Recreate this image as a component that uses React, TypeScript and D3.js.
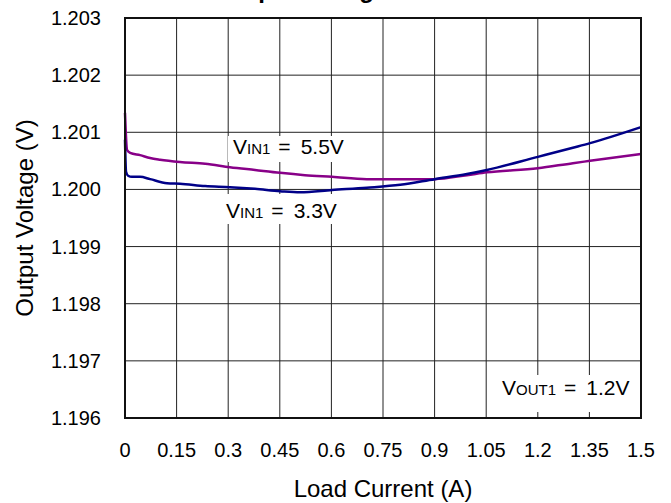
import React, { useEffect, useRef } from 'react'
import * as d3 from 'd3'

// load current (A) and output voltage (V)
const vin55Current = [0, 0.006, 0.015, 0.044, 0.073, 0.102, 0.16, 0.233, 0.305, 0.378, 0.451, 0.523, 0.602, 0.703, 0.8, 0.9, 0.994, 1.052, 1.2, 1.302, 1.352, 1.5]
const vin55Voltage = [1.20134, 1.20069, 1.20064, 1.2006, 1.20055, 1.20052, 1.20048, 1.20045, 1.20039, 1.20034, 1.20029, 1.20025, 1.20022, 1.20018, 1.20018, 1.20018, 1.20025, 1.2003, 1.20037, 1.20046, 1.2005, 1.20062]

const vin33Current = [0, 0.003, 0.009, 0.02, 0.044, 0.073, 0.122, 0.16, 0.233, 0.305, 0.378, 0.451, 0.509, 0.602, 0.703, 0.8, 0.9, 0.994, 1.052, 1.2, 1.302, 1.352, 1.5]
const vin33Voltage = [1.20087, 1.20031, 1.20024, 1.20022, 1.20022, 1.20018, 1.20011, 1.2001, 1.20006, 1.20004, 1.20001, 1.19997, 1.19995, 1.19999, 1.20003, 1.20008, 1.20018, 1.20027, 1.20034, 1.20057, 1.20073, 1.20081, 1.20109]

const xTicks = [0, 0.15, 0.3, 0.45, 0.6, 0.75, 0.9, 1.05, 1.2, 1.35, 1.5]
const yTicks = [1.196, 1.197, 1.198, 1.199, 1.2, 1.201, 1.202, 1.203]

const FONT = 'Liberation Sans, Arial, sans-serif'

function App() {
  const ref = useRef<SVGSVGElement>(null)

  useEffect(() => {
    drawChart(ref.current!, 671, 503)
  }, [])

  return (
    <svg ref={ref} width={671} height={503}
      style={{ position: 'absolute', left: 0, top: 0, background: '#fff' }} />
  )
}

function drawChart(el: SVGSVGElement, w: number, h: number) {
  const svg = d3.select(el)
  svg.selectAll('*').remove()
  svg.append('rect').attr('width', w).attr('height', h).attr('fill', '#fff')

  const marge = { top: 18, bottom: 85, left: 125, right: 30 }
  const x = d3.scaleLinear().domain([0, 1.5]).range([marge.left, w - marge.right])
  const y = d3.scaleLinear().domain([1.196, 1.203]).range([h - marge.bottom, marge.top])

  // title, mostly cut off by the top edge (as in the source image)
  svg.append('text')
    .attr('x', 217).attr('y', -2)
    .attr('font-family', FONT).attr('font-size', 24).attr('font-weight', 'bold')
    .text('Output Voltage vs Load Current')

  // grid
  const g = svg.append('g')
  g.selectAll('line.vx')
    .data(xTicks.slice(1, -1))
    .enter().append('line')
    .attr('x1', d => x(d)).attr('x2', d => x(d))
    .attr('y1', y(1.203)).attr('y2', y(1.196))
    .attr('stroke', '#222').attr('stroke-width', 1)
  g.selectAll('line.hy')
    .data(yTicks.slice(1, -1))
    .enter().append('line')
    .attr('y1', d => y(d)).attr('y2', d => y(d))
    .attr('x1', x(0)).attr('x2', x(1.5))
    .attr('stroke', '#222').attr('stroke-width', 1)

  // white boxes behind the notes
  const boxes = [
    { x0: 228, y0: 136, x1: 348, y1: 162 },
    { x0: 221, y0: 194, x1: 341, y1: 224 },
    { x0: 492, y0: 375, x1: 640, y1: 412 },
  ]
  svg.selectAll('rect.box').data(boxes).enter().append('rect')
    .attr('x', d => d.x0).attr('y', d => d.y0)
    .attr('width', d => d.x1 - d.x0).attr('height', d => d.y1 - d.y0)
    .attr('fill', '#fff')

  // curves
  const line = d3.line<[number, number]>().x(d => x(d[0])).y(d => y(d[1])).curve(d3.curveMonotoneX)
  const series = [
    { pts: d3.zip(vin55Current, vin55Voltage) as [number, number][], color: '#880088' },
    { pts: d3.zip(vin33Current, vin33Voltage) as [number, number][], color: '#000088' },
  ]
  series.forEach(s => {
    svg.append('path').attr('d', line(s.pts))
      .attr('fill', 'none').attr('stroke', s.color).attr('stroke-width', 2.5)
  })

  // frame
  svg.append('rect')
    .attr('x', x(0)).attr('y', y(1.203))
    .attr('width', x(1.5) - x(0)).attr('height', y(1.196) - y(1.203))
    .attr('fill', 'none').attr('stroke', '#111').attr('stroke-width', 2)

  // tick labels
  svg.selectAll('text.yt').data(yTicks).enter().append('text')
    .attr('x', 101).attr('y', d => y(d) + 7)
    .attr('text-anchor', 'end')
    .attr('font-family', FONT).attr('font-size', 20)
    .text(d => d3.format('.3f')(d))
  svg.selectAll('text.xt').data(xTicks).enter().append('text')
    .attr('x', d => x(d)).attr('y', 457)
    .attr('text-anchor', 'middle')
    .attr('font-family', FONT).attr('font-size', 20)
    .text(d => String(d))

  // axis titles
  svg.append('text')
    .attr('x', 383).attr('y', 497)
    .attr('text-anchor', 'middle')
    .attr('font-family', FONT).attr('font-size', 24)
    .text('Load Current (A)')
  svg.append('text')
    .attr('transform', 'translate(33, 218) rotate(-90)')
    .attr('text-anchor', 'middle')
    .attr('font-family', FONT).attr('font-size', 24)
    .text('Output Voltage (V)')

  // notes
  const notes = [
    { px: 233, py: 154, sub: 'IN1', rest: '5.5V' },
    { px: 226, py: 218, sub: 'IN1', rest: '3.3V' },
    { px: 502, py: 395, sub: 'OUT1', rest: '1.2V' },
  ]
  notes.forEach(n => {
    const t = svg.append('text')
      .attr('x', n.px).attr('y', n.py)
      .attr('font-family', FONT).attr('font-size', 21)
    t.append('tspan').text('V')
    t.append('tspan').attr('font-size', 15).text(n.sub)
    t.append('tspan').attr('dx', 8).text('=')
    t.append('tspan').attr('dx', 10).text(n.rest)
  })
}

export default App
